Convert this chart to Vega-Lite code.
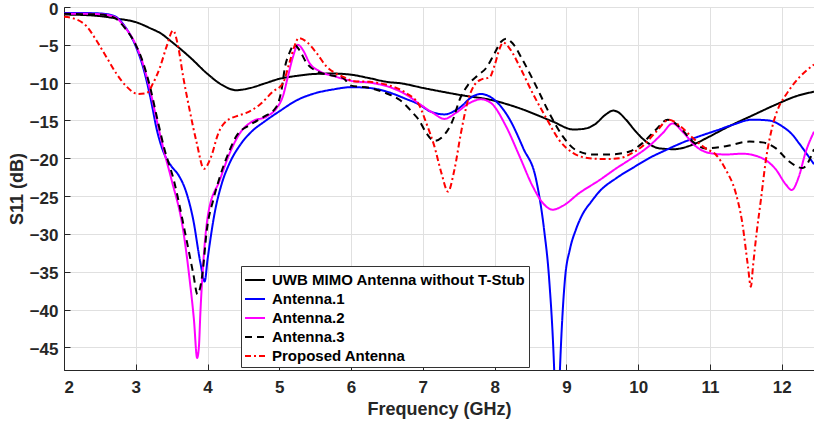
{
  "$schema": "https://vega.github.io/schema/vega-lite/v6.json",
  "width": 750,
  "height": 363,
  "autosize": {"type": "none"},
  "padding": {"left": 64, "top": 7, "right": 0, "bottom": 57},
  "background": "white",
  "config": {
    "view": {"stroke": "#262626", "strokeWidth": 1},
    "font": "Liberation Sans",
    "axis": {
      "labelFont": "Liberation Sans", "labelFontSize": 17, "labelFontWeight": "bold", "labelColor": "#262626",
      "titleFont": "Liberation Sans", "titleFontSize": 18, "titleFontWeight": "bold", "titleColor": "#262626",
      "domainColor": "#262626", "tickColor": "#262626", "gridColor": "#e0e0e0", "gridWidth": 1,
      "tickSize": -6
    }
  },
  "data": {"values": [
    {"s":"UWB MIMO Antenna without T-Stub","f":2.0,"v":-1.0},
    {"s":"UWB MIMO Antenna without T-Stub","f":2.25,"v":-1.05},
    {"s":"UWB MIMO Antenna without T-Stub","f":2.5,"v":-1.2},
    {"s":"UWB MIMO Antenna without T-Stub","f":2.75,"v":-1.55},
    {"s":"UWB MIMO Antenna without T-Stub","f":3.0,"v":-2.0},
    {"s":"UWB MIMO Antenna without T-Stub","f":3.2,"v":-2.8},
    {"s":"UWB MIMO Antenna without T-Stub","f":3.35,"v":-3.5},
    {"s":"UWB MIMO Antenna without T-Stub","f":3.5,"v":-4.6},
    {"s":"UWB MIMO Antenna without T-Stub","f":3.75,"v":-6.6},
    {"s":"UWB MIMO Antenna without T-Stub","f":4.0,"v":-8.85},
    {"s":"UWB MIMO Antenna without T-Stub","f":4.2,"v":-10.3},
    {"s":"UWB MIMO Antenna without T-Stub","f":4.4,"v":-11.0},
    {"s":"UWB MIMO Antenna without T-Stub","f":4.6,"v":-10.7},
    {"s":"UWB MIMO Antenna without T-Stub","f":4.8,"v":-10.1},
    {"s":"UWB MIMO Antenna without T-Stub","f":5.0,"v":-9.5},
    {"s":"UWB MIMO Antenna without T-Stub","f":5.25,"v":-9.1},
    {"s":"UWB MIMO Antenna without T-Stub","f":5.5,"v":-8.85},
    {"s":"UWB MIMO Antenna without T-Stub","f":5.75,"v":-8.8},
    {"s":"UWB MIMO Antenna without T-Stub","f":6.0,"v":-8.95},
    {"s":"UWB MIMO Antenna without T-Stub","f":6.25,"v":-9.4},
    {"s":"UWB MIMO Antenna without T-Stub","f":6.5,"v":-9.9},
    {"s":"UWB MIMO Antenna without T-Stub","f":6.7,"v":-10.1},
    {"s":"UWB MIMO Antenna without T-Stub","f":7.0,"v":-10.7},
    {"s":"UWB MIMO Antenna without T-Stub","f":7.5,"v":-11.6},
    {"s":"UWB MIMO Antenna without T-Stub","f":8.0,"v":-12.4},
    {"s":"UWB MIMO Antenna without T-Stub","f":8.35,"v":-13.4},
    {"s":"UWB MIMO Antenna without T-Stub","f":8.8,"v":-15.1},
    {"s":"UWB MIMO Antenna without T-Stub","f":9.1,"v":-16.2},
    {"s":"UWB MIMO Antenna without T-Stub","f":9.25,"v":-16.1},
    {"s":"UWB MIMO Antenna without T-Stub","f":9.4,"v":-15.5},
    {"s":"UWB MIMO Antenna without T-Stub","f":9.55,"v":-14.2},
    {"s":"UWB MIMO Antenna without T-Stub","f":9.65,"v":-13.7},
    {"s":"UWB MIMO Antenna without T-Stub","f":9.72,"v":-13.9},
    {"s":"UWB MIMO Antenna without T-Stub","f":9.83,"v":-14.9},
    {"s":"UWB MIMO Antenna without T-Stub","f":9.97,"v":-16.5},
    {"s":"UWB MIMO Antenna without T-Stub","f":10.11,"v":-17.8},
    {"s":"UWB MIMO Antenna without T-Stub","f":10.3,"v":-18.7},
    {"s":"UWB MIMO Antenna without T-Stub","f":10.5,"v":-18.8},
    {"s":"UWB MIMO Antenna without T-Stub","f":10.76,"v":-18.2},
    {"s":"UWB MIMO Antenna without T-Stub","f":11.0,"v":-17.1},
    {"s":"UWB MIMO Antenna without T-Stub","f":11.22,"v":-16.0},
    {"s":"UWB MIMO Antenna without T-Stub","f":11.6,"v":-14.3},
    {"s":"UWB MIMO Antenna without T-Stub","f":11.92,"v":-12.9},
    {"s":"UWB MIMO Antenna without T-Stub","f":12.2,"v":-11.8},
    {"s":"UWB MIMO Antenna without T-Stub","f":12.45,"v":-11.2},

    {"s":"Antenna.1","f":2.0,"v":-0.8},
    {"s":"Antenna.1","f":2.3,"v":-0.8},
    {"s":"Antenna.1","f":2.5,"v":-0.85},
    {"s":"Antenna.1","f":2.7,"v":-1.2},
    {"s":"Antenna.1","f":2.85,"v":-2.6},
    {"s":"Antenna.1","f":3.0,"v":-5.2},
    {"s":"Antenna.1","f":3.1,"v":-7.9},
    {"s":"Antenna.1","f":3.2,"v":-11.8},
    {"s":"Antenna.1","f":3.3,"v":-16.5},
    {"s":"Antenna.1","f":3.4,"v":-19.5},
    {"s":"Antenna.1","f":3.5,"v":-21.1},
    {"s":"Antenna.1","f":3.6,"v":-22.3},
    {"s":"Antenna.1","f":3.7,"v":-24.4},
    {"s":"Antenna.1","f":3.8,"v":-28.1},
    {"s":"Antenna.1","f":3.9,"v":-33.8},
    {"s":"Antenna.1","f":3.96,"v":-36.3},
    {"s":"Antenna.1","f":4.0,"v":-33.4},
    {"s":"Antenna.1","f":4.1,"v":-27.2},
    {"s":"Antenna.1","f":4.2,"v":-23.3},
    {"s":"Antenna.1","f":4.3,"v":-20.8},
    {"s":"Antenna.1","f":4.45,"v":-18.3},
    {"s":"Antenna.1","f":4.6,"v":-16.6},
    {"s":"Antenna.1","f":4.8,"v":-15.1},
    {"s":"Antenna.1","f":5.0,"v":-13.8},
    {"s":"Antenna.1","f":5.25,"v":-12.3},
    {"s":"Antenna.1","f":5.5,"v":-11.4},
    {"s":"Antenna.1","f":5.75,"v":-10.9},
    {"s":"Antenna.1","f":6.0,"v":-10.6},
    {"s":"Antenna.1","f":6.25,"v":-10.7},
    {"s":"Antenna.1","f":6.5,"v":-11.2},
    {"s":"Antenna.1","f":6.75,"v":-12.1},
    {"s":"Antenna.1","f":6.95,"v":-12.9},
    {"s":"Antenna.1","f":7.1,"v":-13.8},
    {"s":"Antenna.1","f":7.3,"v":-14.2},
    {"s":"Antenna.1","f":7.5,"v":-13.4},
    {"s":"Antenna.1","f":7.7,"v":-11.8},
    {"s":"Antenna.1","f":7.8,"v":-11.5},
    {"s":"Antenna.1","f":8.0,"v":-12.3},
    {"s":"Antenna.1","f":8.2,"v":-14.7},
    {"s":"Antenna.1","f":8.4,"v":-18.7},
    {"s":"Antenna.1","f":8.58,"v":-22.9},
    {"s":"Antenna.1","f":8.69,"v":-29.5},
    {"s":"Antenna.1","f":8.76,"v":-36},
    {"s":"Antenna.1","f":8.83,"v":-48},
    {"s":"Antenna.1","f":8.87,"v":-60},
    {"s":"Antenna.1","f":8.91,"v":-48},
    {"s":"Antenna.1","f":8.95,"v":-40},
    {"s":"Antenna.1","f":8.98,"v":-36},
    {"s":"Antenna.1","f":9.05,"v":-32},
    {"s":"Antenna.1","f":9.13,"v":-29.5},
    {"s":"Antenna.1","f":9.22,"v":-27.5},
    {"s":"Antenna.1","f":9.35,"v":-25.7},
    {"s":"Antenna.1","f":9.46,"v":-24.4},
    {"s":"Antenna.1","f":9.7,"v":-22.6},
    {"s":"Antenna.1","f":9.92,"v":-21.3},
    {"s":"Antenna.1","f":10.15,"v":-20.0},
    {"s":"Antenna.1","f":10.39,"v":-18.9},
    {"s":"Antenna.1","f":10.6,"v":-18.0},
    {"s":"Antenna.1","f":10.85,"v":-17.1},
    {"s":"Antenna.1","f":11.1,"v":-16.3},
    {"s":"Antenna.1","f":11.31,"v":-15.6},
    {"s":"Antenna.1","f":11.59,"v":-14.9},
    {"s":"Antenna.1","f":11.82,"v":-15.0},
    {"s":"Antenna.1","f":12.01,"v":-15.8},
    {"s":"Antenna.1","f":12.15,"v":-16.9},
    {"s":"Antenna.1","f":12.24,"v":-18.0},
    {"s":"Antenna.1","f":12.45,"v":-20.8},

    {"s":"Antenna.2","f":2.0,"v":-0.9},
    {"s":"Antenna.2","f":2.3,"v":-0.9},
    {"s":"Antenna.2","f":2.5,"v":-0.95},
    {"s":"Antenna.2","f":2.7,"v":-1.3},
    {"s":"Antenna.2","f":2.85,"v":-2.7},
    {"s":"Antenna.2","f":3.0,"v":-5.0},
    {"s":"Antenna.2","f":3.1,"v":-7.5},
    {"s":"Antenna.2","f":3.2,"v":-11.0},
    {"s":"Antenna.2","f":3.3,"v":-15.3},
    {"s":"Antenna.2","f":3.4,"v":-19.3},
    {"s":"Antenna.2","f":3.5,"v":-22.9},
    {"s":"Antenna.2","f":3.66,"v":-29.5},
    {"s":"Antenna.2","f":3.75,"v":-36},
    {"s":"Antenna.2","f":3.81,"v":-41.3},
    {"s":"Antenna.2","f":3.855,"v":-46.4},
    {"s":"Antenna.2","f":3.88,"v":-44.9},
    {"s":"Antenna.2","f":3.9,"v":-40.5},
    {"s":"Antenna.2","f":3.94,"v":-33.9},
    {"s":"Antenna.2","f":4.01,"v":-27.3},
    {"s":"Antenna.2","f":4.17,"v":-22.9},
    {"s":"Antenna.2","f":4.31,"v":-19.3},
    {"s":"Antenna.2","f":4.45,"v":-16.7},
    {"s":"Antenna.2","f":4.63,"v":-15.1},
    {"s":"Antenna.2","f":4.82,"v":-14.5},
    {"s":"Antenna.2","f":4.96,"v":-13.4},
    {"s":"Antenna.2","f":5.05,"v":-11.8},
    {"s":"Antenna.2","f":5.12,"v":-9.2},
    {"s":"Antenna.2","f":5.19,"v":-6.6},
    {"s":"Antenna.2","f":5.26,"v":-5.0},
    {"s":"Antenna.2","f":5.33,"v":-5.7},
    {"s":"Antenna.2","f":5.42,"v":-7.4},
    {"s":"Antenna.2","f":5.56,"v":-8.5},
    {"s":"Antenna.2","f":5.75,"v":-9.1},
    {"s":"Antenna.2","f":5.93,"v":-9.6},
    {"s":"Antenna.2","f":6.02,"v":-9.8},
    {"s":"Antenna.2","f":6.26,"v":-10.0},
    {"s":"Antenna.2","f":6.54,"v":-10.6},
    {"s":"Antenna.2","f":6.77,"v":-11.6},
    {"s":"Antenna.2","f":6.95,"v":-12.8},
    {"s":"Antenna.2","f":7.14,"v":-14.0},
    {"s":"Antenna.2","f":7.3,"v":-14.8},
    {"s":"Antenna.2","f":7.46,"v":-14.0},
    {"s":"Antenna.2","f":7.65,"v":-12.7},
    {"s":"Antenna.2","f":7.81,"v":-12.2},
    {"s":"Antenna.2","f":7.95,"v":-12.7},
    {"s":"Antenna.2","f":8.16,"v":-15.8},
    {"s":"Antenna.2","f":8.35,"v":-19.8},
    {"s":"Antenna.2","f":8.53,"v":-23.7},
    {"s":"Antenna.2","f":8.67,"v":-25.9},
    {"s":"Antenna.2","f":8.81,"v":-26.8},
    {"s":"Antenna.2","f":8.95,"v":-26.3},
    {"s":"Antenna.2","f":9.18,"v":-24.6},
    {"s":"Antenna.2","f":9.46,"v":-22.9},
    {"s":"Antenna.2","f":9.7,"v":-21.3},
    {"s":"Antenna.2","f":9.88,"v":-20.2},
    {"s":"Antenna.2","f":10.15,"v":-18.4},
    {"s":"Antenna.2","f":10.34,"v":-16.7},
    {"s":"Antenna.2","f":10.48,"v":-15.4},
    {"s":"Antenna.2","f":10.62,"v":-16.5},
    {"s":"Antenna.2","f":10.8,"v":-18.4},
    {"s":"Antenna.2","f":10.99,"v":-19.3},
    {"s":"Antenna.2","f":11.22,"v":-19.5},
    {"s":"Antenna.2","f":11.45,"v":-19.4},
    {"s":"Antenna.2","f":11.68,"v":-19.8},
    {"s":"Antenna.2","f":11.92,"v":-21.5},
    {"s":"Antenna.2","f":12.06,"v":-23.5},
    {"s":"Antenna.2","f":12.14,"v":-24.2},
    {"s":"Antenna.2","f":12.24,"v":-22.4},
    {"s":"Antenna.2","f":12.33,"v":-19.3},
    {"s":"Antenna.2","f":12.45,"v":-16.5},

    {"s":"Antenna.3","f":2.0,"v":-0.9},
    {"s":"Antenna.3","f":2.3,"v":-0.95},
    {"s":"Antenna.3","f":2.5,"v":-1.0},
    {"s":"Antenna.3","f":2.7,"v":-1.4},
    {"s":"Antenna.3","f":2.85,"v":-2.8},
    {"s":"Antenna.3","f":3.0,"v":-5.0},
    {"s":"Antenna.3","f":3.1,"v":-7.3},
    {"s":"Antenna.3","f":3.2,"v":-10.6},
    {"s":"Antenna.3","f":3.3,"v":-14.8},
    {"s":"Antenna.3","f":3.4,"v":-18.8},
    {"s":"Antenna.3","f":3.53,"v":-22.9},
    {"s":"Antenna.3","f":3.68,"v":-29.5},
    {"s":"Antenna.3","f":3.8,"v":-35.2},
    {"s":"Antenna.3","f":3.86,"v":-38.0},
    {"s":"Antenna.3","f":3.89,"v":-37.4},
    {"s":"Antenna.3","f":3.93,"v":-35.2},
    {"s":"Antenna.3","f":3.99,"v":-29.5},
    {"s":"Antenna.3","f":4.08,"v":-25.5},
    {"s":"Antenna.3","f":4.17,"v":-22.5},
    {"s":"Antenna.3","f":4.31,"v":-18.9},
    {"s":"Antenna.3","f":4.4,"v":-17.1},
    {"s":"Antenna.3","f":4.59,"v":-15.6},
    {"s":"Antenna.3","f":4.77,"v":-14.6},
    {"s":"Antenna.3","f":4.96,"v":-13.2},
    {"s":"Antenna.3","f":5.03,"v":-11.0},
    {"s":"Antenna.3","f":5.08,"v":-7.9},
    {"s":"Antenna.3","f":5.14,"v":-6.1},
    {"s":"Antenna.3","f":5.21,"v":-5.0},
    {"s":"Antenna.3","f":5.28,"v":-5.7},
    {"s":"Antenna.3","f":5.38,"v":-7.4},
    {"s":"Antenna.3","f":5.52,"v":-8.5},
    {"s":"Antenna.3","f":5.7,"v":-9.0},
    {"s":"Antenna.3","f":5.89,"v":-9.4},
    {"s":"Antenna.3","f":6.0,"v":-10.4},
    {"s":"Antenna.3","f":6.26,"v":-10.7},
    {"s":"Antenna.3","f":6.49,"v":-11.4},
    {"s":"Antenna.3","f":6.68,"v":-12.3},
    {"s":"Antenna.3","f":6.86,"v":-14.0},
    {"s":"Antenna.3","f":6.95,"v":-15.0},
    {"s":"Antenna.3","f":7.05,"v":-16.7},
    {"s":"Antenna.3","f":7.16,"v":-17.7},
    {"s":"Antenna.3","f":7.28,"v":-17.1},
    {"s":"Antenna.3","f":7.42,"v":-14.9},
    {"s":"Antenna.3","f":7.51,"v":-12.3},
    {"s":"Antenna.3","f":7.63,"v":-10.3},
    {"s":"Antenna.3","f":7.77,"v":-9.0},
    {"s":"Antenna.3","f":7.88,"v":-8.1},
    {"s":"Antenna.3","f":8.0,"v":-6.1},
    {"s":"Antenna.3","f":8.09,"v":-4.6},
    {"s":"Antenna.3","f":8.16,"v":-4.2},
    {"s":"Antenna.3","f":8.25,"v":-4.8},
    {"s":"Antenna.3","f":8.39,"v":-7.0},
    {"s":"Antenna.3","f":8.58,"v":-10.5},
    {"s":"Antenna.3","f":8.76,"v":-14.0},
    {"s":"Antenna.3","f":8.95,"v":-17.1},
    {"s":"Antenna.3","f":9.13,"v":-18.9},
    {"s":"Antenna.3","f":9.37,"v":-19.5},
    {"s":"Antenna.3","f":9.6,"v":-19.5},
    {"s":"Antenna.3","f":9.88,"v":-19.1},
    {"s":"Antenna.3","f":10.06,"v":-18.0},
    {"s":"Antenna.3","f":10.25,"v":-16.2},
    {"s":"Antenna.3","f":10.41,"v":-14.9},
    {"s":"Antenna.3","f":10.57,"v":-15.8},
    {"s":"Antenna.3","f":10.76,"v":-17.8},
    {"s":"Antenna.3","f":10.94,"v":-18.7},
    {"s":"Antenna.3","f":11.22,"v":-18.4},
    {"s":"Antenna.3","f":11.55,"v":-17.8},
    {"s":"Antenna.3","f":11.73,"v":-17.9},
    {"s":"Antenna.3","f":11.92,"v":-18.7},
    {"s":"Antenna.3","f":12.1,"v":-20.4},
    {"s":"Antenna.3","f":12.29,"v":-21.3},
    {"s":"Antenna.3","f":12.45,"v":-18.8},

    {"s":"Proposed Antenna","f":2.0,"v":-1.3},
    {"s":"Proposed Antenna","f":2.13,"v":-1.5},
    {"s":"Proposed Antenna","f":2.32,"v":-2.6},
    {"s":"Proposed Antenna","f":2.45,"v":-4.4},
    {"s":"Proposed Antenna","f":2.59,"v":-6.6},
    {"s":"Proposed Antenna","f":2.73,"v":-8.8},
    {"s":"Proposed Antenna","f":2.87,"v":-10.5},
    {"s":"Proposed Antenna","f":3.03,"v":-11.5},
    {"s":"Proposed Antenna","f":3.15,"v":-11.4},
    {"s":"Proposed Antenna","f":3.24,"v":-10.1},
    {"s":"Proposed Antenna","f":3.34,"v":-7.9},
    {"s":"Proposed Antenna","f":3.43,"v":-5.2},
    {"s":"Proposed Antenna","f":3.52,"v":-3.1},
    {"s":"Proposed Antenna","f":3.59,"v":-5.2},
    {"s":"Proposed Antenna","f":3.66,"v":-9.2},
    {"s":"Proposed Antenna","f":3.75,"v":-13.6},
    {"s":"Proposed Antenna","f":3.85,"v":-18.0},
    {"s":"Proposed Antenna","f":3.95,"v":-21.4},
    {"s":"Proposed Antenna","f":4.05,"v":-19.8},
    {"s":"Proposed Antenna","f":4.15,"v":-16.7},
    {"s":"Proposed Antenna","f":4.26,"v":-15.1},
    {"s":"Proposed Antenna","f":4.45,"v":-14.3},
    {"s":"Proposed Antenna","f":4.54,"v":-14.0},
    {"s":"Proposed Antenna","f":4.73,"v":-12.9},
    {"s":"Proposed Antenna","f":4.91,"v":-11.2},
    {"s":"Proposed Antenna","f":5.05,"v":-10.1},
    {"s":"Proposed Antenna","f":5.14,"v":-7.4},
    {"s":"Proposed Antenna","f":5.21,"v":-5.2},
    {"s":"Proposed Antenna","f":5.27,"v":-4.1},
    {"s":"Proposed Antenna","f":5.38,"v":-4.6},
    {"s":"Proposed Antenna","f":5.52,"v":-6.1},
    {"s":"Proposed Antenna","f":5.66,"v":-7.9},
    {"s":"Proposed Antenna","f":5.79,"v":-8.8},
    {"s":"Proposed Antenna","f":5.93,"v":-9.4},
    {"s":"Proposed Antenna","f":6.02,"v":-9.8},
    {"s":"Proposed Antenna","f":6.26,"v":-9.9},
    {"s":"Proposed Antenna","f":6.54,"v":-10.4},
    {"s":"Proposed Antenna","f":6.77,"v":-11.4},
    {"s":"Proposed Antenna","f":6.95,"v":-13.0},
    {"s":"Proposed Antenna","f":7.05,"v":-15.4},
    {"s":"Proposed Antenna","f":7.16,"v":-18.4},
    {"s":"Proposed Antenna","f":7.26,"v":-22.0},
    {"s":"Proposed Antenna","f":7.35,"v":-24.4},
    {"s":"Proposed Antenna","f":7.44,"v":-21.5},
    {"s":"Proposed Antenna","f":7.53,"v":-16.7},
    {"s":"Proposed Antenna","f":7.63,"v":-12.3},
    {"s":"Proposed Antenna","f":7.72,"v":-10.3},
    {"s":"Proposed Antenna","f":7.81,"v":-9.6},
    {"s":"Proposed Antenna","f":7.93,"v":-9.3},
    {"s":"Proposed Antenna","f":8.0,"v":-7.7},
    {"s":"Proposed Antenna","f":8.07,"v":-5.5},
    {"s":"Proposed Antenna","f":8.12,"v":-4.7},
    {"s":"Proposed Antenna","f":8.21,"v":-5.5},
    {"s":"Proposed Antenna","f":8.35,"v":-7.9},
    {"s":"Proposed Antenna","f":8.53,"v":-11.4},
    {"s":"Proposed Antenna","f":8.72,"v":-14.7},
    {"s":"Proposed Antenna","f":8.9,"v":-17.6},
    {"s":"Proposed Antenna","f":9.09,"v":-19.3},
    {"s":"Proposed Antenna","f":9.32,"v":-20.0},
    {"s":"Proposed Antenna","f":9.55,"v":-20.1},
    {"s":"Proposed Antenna","f":9.74,"v":-20.0},
    {"s":"Proposed Antenna","f":9.88,"v":-19.5},
    {"s":"Proposed Antenna","f":10.06,"v":-18.4},
    {"s":"Proposed Antenna","f":10.25,"v":-16.5},
    {"s":"Proposed Antenna","f":10.43,"v":-14.9},
    {"s":"Proposed Antenna","f":10.59,"v":-15.8},
    {"s":"Proposed Antenna","f":10.76,"v":-17.3},
    {"s":"Proposed Antenna","f":10.94,"v":-18.7},
    {"s":"Proposed Antenna","f":11.08,"v":-19.5},
    {"s":"Proposed Antenna","f":11.22,"v":-21.5},
    {"s":"Proposed Antenna","f":11.36,"v":-24.6},
    {"s":"Proposed Antenna","f":11.45,"v":-28.5},
    {"s":"Proposed Antenna","f":11.53,"v":-34.3},
    {"s":"Proposed Antenna","f":11.57,"v":-37.0},
    {"s":"Proposed Antenna","f":11.6,"v":-34.3},
    {"s":"Proposed Antenna","f":11.65,"v":-29.9},
    {"s":"Proposed Antenna","f":11.71,"v":-25.5},
    {"s":"Proposed Antenna","f":11.78,"v":-20.2},
    {"s":"Proposed Antenna","f":11.87,"v":-15.8},
    {"s":"Proposed Antenna","f":11.96,"v":-13.2},
    {"s":"Proposed Antenna","f":12.06,"v":-11.6},
    {"s":"Proposed Antenna","f":12.19,"v":-9.9},
    {"s":"Proposed Antenna","f":12.45,"v":-7.6}
  ]},
  "mark": {"type": "line", "clip": true, "strokeWidth": 2, "interpolate": "monotone"},
  "encoding": {
    "x": {
      "field": "f", "type": "quantitative",
      "scale": {"domain": [2, 12.45], "nice": false, "zero": false},
      "axis": {"values": [2,3,4,5,6,7,8,9,10,11,12], "title": "Frequency (GHz)", "grid": true, "labelPadding": 15, "titlePadding": 5}
    },
    "y": {
      "field": "v", "type": "quantitative",
      "scale": {"domain": [-48, 0], "nice": false, "zero": false},
      "axis": {"values": [0,-5,-10,-15,-20,-25,-30,-35,-40,-45], "title": "S11 (dB)", "grid": true, "labelPadding": 12, "labelOffset": 2, "titlePadding": 3}
    },
    "color": {
      "field": "s", "type": "nominal",
      "scale": {
        "domain": ["UWB MIMO Antenna without T-Stub", "Antenna.1", "Antenna.2", "Antenna.3", "Proposed Antenna"],
        "range": ["#000000", "#0000ff", "#ff00ff", "#000000", "#ff0000"]
      },
      "legend": {"title": null, "orient": "none", "legendX": 177, "legendY": 259, "symbolType": "stroke", "symbolSize": 400, "symbolStrokeWidth": 2, "labelFontSize": 15, "labelFontWeight": "bold", "labelFont": "Liberation Sans", "labelColor": "#000000", "padding": 3, "rowPadding": 0, "labelOffset": 6, "strokeColor": "#333333", "fillColor": "white", "labelLimit": 400}
    },
    "strokeDash": {
      "field": "s", "type": "nominal",
      "scale": {
        "domain": ["UWB MIMO Antenna without T-Stub", "Antenna.1", "Antenna.2", "Antenna.3", "Proposed Antenna"],
        "range": [[1, 0], [1, 0], [1, 0], [7, 5], [6, 3, 2, 3]]
      },
      "legend": {"title": null, "orient": "none", "legendX": 177, "legendY": 259, "symbolType": "stroke", "symbolSize": 400, "symbolStrokeWidth": 2, "labelFontSize": 15, "labelFontWeight": "bold", "labelFont": "Liberation Sans", "labelColor": "#000000", "padding": 3, "rowPadding": 0, "labelOffset": 6, "strokeColor": "#333333", "fillColor": "white", "labelLimit": 400}
    }
  }
}
